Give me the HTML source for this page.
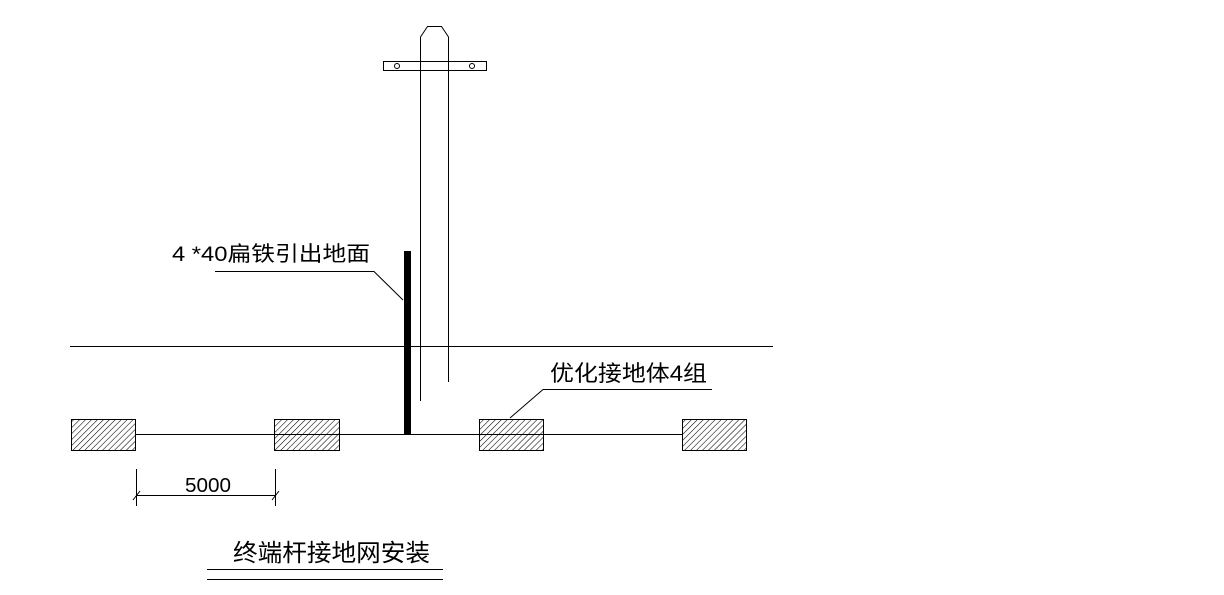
<!DOCTYPE html>
<html><head><meta charset="utf-8"><style>
html,body{margin:0;padding:0;background:#fff;}
svg{display:block;}
text{font-family:"Liberation Sans","Noto Sans CJK SC",sans-serif;fill:#000;}
</style></head><body>
<svg width="1224" height="595" viewBox="0 0 1224 595" xmlns="http://www.w3.org/2000/svg">
<defs>
<pattern id="h" patternUnits="userSpaceOnUse" width="4.2" height="4.2" patternTransform="rotate(45)">
<line x1="0" y1="0" x2="0" y2="4.2" stroke="#000" stroke-width="1.1"/>
</pattern>
</defs>
<g stroke="#000" stroke-width="1" fill="none">
<polyline points="420.5,401 420.5,37 427.5,26.5 441.5,26.5 448.5,37 448.5,382"/>
<rect x="383.5" y="61.5" width="103" height="9" fill="#fff"/>
<line x1="420.5" y1="61.5" x2="420.5" y2="70.5"/>
<line x1="448.5" y1="61.5" x2="448.5" y2="70.5"/>
<circle cx="397" cy="66" r="2.5"/>
<circle cx="472" cy="66" r="2.5"/>
<line x1="70" y1="346.5" x2="773" y2="346.5"/>
<line x1="135" y1="434.5" x2="682" y2="434.5"/>
<polyline points="215,271.5 374,271.5 403,300"/>
<polyline points="712,389.5 543,389.5 510,418"/>
<line x1="136.5" y1="469" x2="136.5" y2="506"/>
<line x1="275.5" y1="469" x2="275.5" y2="506"/>
<line x1="136" y1="495.5" x2="276" y2="495.5"/>
<line x1="133" y1="500" x2="140" y2="491"/>
<line x1="272" y1="500" x2="279" y2="491"/>
<line x1="207" y1="569.5" x2="443" y2="569.5"/>
<line x1="207" y1="579.5" x2="443" y2="579.5"/>
</g>
<rect x="404" y="251" width="7" height="184" fill="#000"/>
<g stroke="#000" stroke-width="1" fill="url(#h)">
<rect x="71.5" y="419.5" width="64" height="31"/>
<rect x="274.5" y="419.5" width="65" height="31"/>
<rect x="479.5" y="419.5" width="64" height="31"/>
<rect x="682.5" y="419.5" width="64" height="31"/>
</g>
<text x="185" y="492" font-size="20" textLength="46" lengthAdjust="spacingAndGlyphs">5000</text>
<text x="172" y="261" font-size="21" textLength="198" lengthAdjust="spacingAndGlyphs">4 *40扁铁引出地面</text>
<text x="550" y="381" font-size="22" textLength="157" lengthAdjust="spacingAndGlyphs">优化接地体4组</text>
<text x="233" y="561" font-size="24" textLength="197" lengthAdjust="spacingAndGlyphs">终端杆接地网安装</text>
</svg>
</body></html>
